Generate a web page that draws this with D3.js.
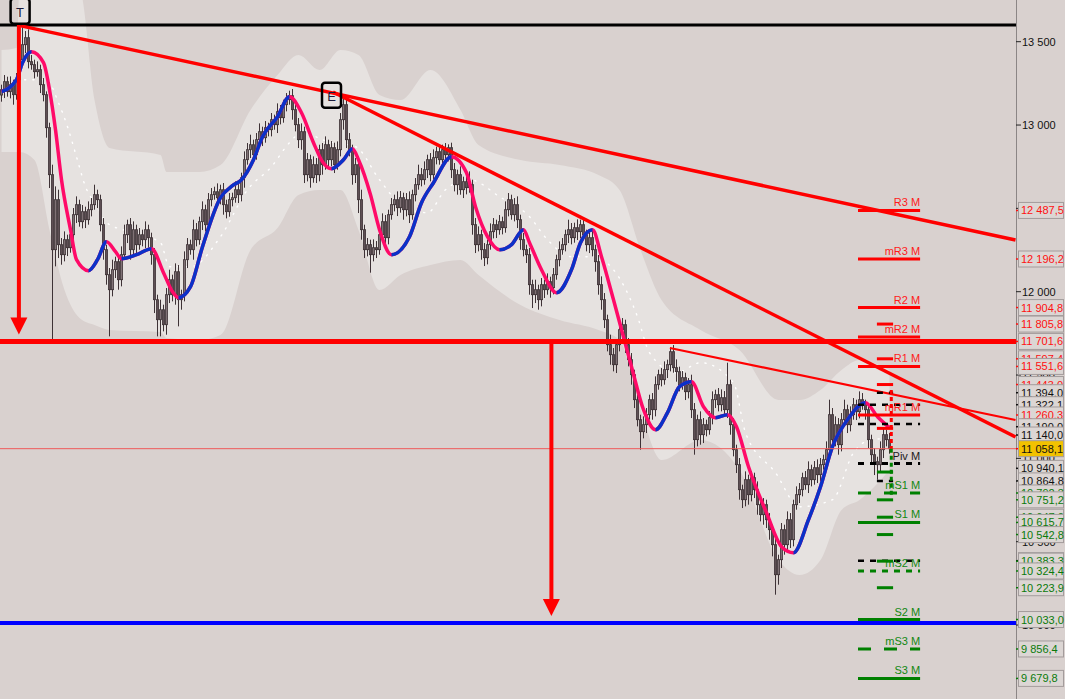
<!DOCTYPE html>
<html><head><meta charset="utf-8">
<script src="https://cdn.jsdelivr.net/npm/d3@7"></script>
<style>
body{margin:0;background:#d9d1cf;overflow:hidden}
svg{display:block}
text{font-family:"Liberation Sans",Arial,sans-serif}
</style>
</head><body>
<svg id="c" width="1065" height="699"></svg>
<script>
// ---------------- DATA ----------------
const firstOpen = 13180;
const closes = [
13212,13260,13200,13242,13182,13272,13392,13482,13524,13380,
13362,13320,13332,13242,13182,12984,12702,12252,12552,12282,
12222,12312,12264,12342,12462,12522,12420,12480,12432,12492,
12522,12582,12552,12402,12252,12102,12012,12132,12180,12072,
12222,12342,12402,12252,12372,12282,12342,12312,12372,12324,
12222,11952,11832,11892,11802,11982,12072,11982,12120,11952,
11982,12192,12282,12252,12372,12312,12420,12492,12402,12552,
12582,12600,12564,12612,12522,12480,12552,12564,12612,12582,
12684,12792,12852,12882,12822,12912,12960,12924,12984,12972,
13032,13002,13080,13044,13122,13152,13176,13092,13002,12912,
12960,12702,12792,12684,12762,12702,12852,12762,12882,12792,
12864,12762,12852,13032,13122,12912,12852,12702,12762,12552,
12372,12252,12282,12222,12264,12252,12342,12420,12324,12462,
12522,12552,12504,12564,12492,12552,12462,12582,12642,12702,
12672,12732,12792,12702,12804,12840,12792,12852,12822,12864,
12732,12642,12702,12612,12660,12624,12642,12402,12282,12342,
12252,12204,12282,12360,12402,12372,12420,12384,12492,12552,
12462,12522,12432,12312,12252,12222,12042,11982,12012,11952,
12042,12012,12060,12024,12102,12192,12252,12282,12342,12372,
12324,12384,12360,12402,12342,12282,12324,12252,12180,12042,
11952,11832,11682,11622,11562,11682,11772,11802,11682,11592,
11502,11352,11232,11160,11202,11262,11352,11292,11442,11502,
11472,11532,11562,11640,11544,11520,11442,11484,11400,11442,
11292,11112,11232,11142,11202,11172,11244,11352,11382,11322,
11364,11292,11442,11202,11052,10962,10812,10752,10872,10782,
10884,10812,10722,10662,10722,10632,10572,10482,10302,10392,
10572,10482,10632,10512,10722,10782,10812,10884,10842,10932,
10872,10944,10902,10962,10992,11052,11262,11112,11202,11082,
11232,11292,11202,11262,11322,11280,11352,11322,11292,11112,
11022,10980,10962,11052,11142,11112,11058.1];
const upperWick = [
30,40,30,50,30,40,60,115,40,50, 40,30,50,30,40,20,30,60,80,60,
40,50,30,60,40,50,30,40,30,50, 40,60,30,30,40,30,40,60,30,40,
50,60,30,40,50,30,40,30,50,30, 30,40,30,60,30,40,60,30,50,40,
30,50,40,30,60,40,30,50,30,40, 40,30,50,30,40,30,40,30,50,40,
30,50,40,60,30,40,50,30,40,30, 40,30,50,40,30,40,30,40,30,40,
50,30,40,30,50,40,30,40,50,30, 40,30,50,40,50,30,40,30,40,30,
60,30,40,30,50,40,30,50,40,30, 40,30,50,40,30,40,50,30,40,60,
40,50,30,40,50,30,40,30,40,20, 30,40,30,50,30,40,80,30,40,50,
30,40,30,50,40,30,40,30,50,40, 30,40,50,30,40,30,40,30,60,30,
40,30,50,30,40,30,50,40,30,60, 40,30,50,30,40,30,40,50,30,40,
50,40,30,60,40,30,50,40,30,40, 40,30,40,30,50,40,30,40,50,30,
40,50,30,24,40,50,30,40,30,40, 60,40,30,50,40,30,40,50,30,40,
50,40,132,30,40,30,40,30,50,30, 40,30,50,30,40,30,40,30,40,30,
40,30,50,40,30,50,40,30,40,50, 30,40,50,40,30,50,90,40,50,40,
40,60,30,50,40,30,50,40,30,40, 30,40,30,50,40,30,40];
const lowerWick = [
40,50,30,40,60,30,40,30,50,40, 30,40,30,50,40,60,80,540,100,80,
60,40,50,30,40,50,30,40,50,30, 40,30,50,40,60,60,280,40,50,60,
40,30,50,60,40,50,30,40,50,60, 60,80,100,100,40,60,50,40,60,160,
60,40,50,30,60,40,30,50,40,30, 40,30,50,40,60,40,30,40,30,50,
40,60,30,50,40,30,40,50,30,40, 40,30,50,40,30,40,30,60,40,50,
60,50,40,60,30,50,40,60,30,50, 40,50,30,40,60,50,40,60,50,80,
60,50,40,108,40,50,30,40,60,40, 30,40,50,30,60,40,50,30,40,30,
40,30,50,40,30,40,30,40,30,40, 50,40,60,30,50,40,30,60,50,40,
60,50,40,30,40,50,30,40,30,40, 30,40,50,60,40,50,60,80,50,60,
40,50,30,60,40,30,40,30,40,50, 40,30,50,40,30,40,50,40,60,60,
60,50,40,60,40,50,40,60,50,40, 60,50,40,108,40,50,30,60,40,30,
40,30,50,40,30,60,40,30,50,40, 50,90,40,60,50,40,30,40,50,40,
40,30,50,60,40,50,60,50,40,60, 40,50,60,40,60,50,60,70,120,60,
50,60,40,50,40,30,50,40,30,50, 40,30,50,40,30,40,60,50,40,60,
40,30,50,40,30,50,40,30,60,50, 60,80,90,40,50,40,30];

// smoothed trend average (blue rising / pink falling), read at candle indices
const maIdx = [0,5,7,10,14,16,18,20,23,25,29,32,35,38,40,45,50,54,57,59,63,67,73,77,80,84,87,92,96,100,104,107,110,114,117,119,123,126,130,136,140,144,150,155,158,162,166,170,174,176,180,185,190,193,197,200,204,210,214,218,222,226,230,234,238,242,245,249,255,260,264,269,273,277,282,288,292,296];
const maVal = [13200,13272,13374,13440,13374,13212,12972,12672,12372,12192,12126,12192,12300,12240,12198,12222,12258,12114,12000,11964,12030,12270,12564,12636,12672,12792,12930,13050,13170,13074,12894,12780,12738,12792,12858,12792,12582,12372,12222,12330,12534,12654,12810,12714,12510,12330,12252,12282,12372,12294,12132,11994,12132,12294,12372,12210,11952,11550,11292,11172,11274,11430,11460,11310,11244,11262,11190,10950,10674,10470,10434,10632,10830,11070,11232,11334,11250,11184];

// middle dotted line
const midIdx = [0,6,15,19,22,25,28,32,35,44,53,56,63,73,82,90,96,100,109,118,126,134,142,148,156,166,176,182,190,197,204,212,216,225,233,244,248,258,266,277,284,290,296];
const midVal = [13152,13272,13272,13134,12990,12810,12630,12510,12414,12354,12294,12150,12150,12330,12612,12750,12894,12954,12900,12870,12672,12510,12474,12612,12672,12570,12450,12312,12210,12210,12132,11850,11634,11514,11574,11454,11154,10914,10710,10752,11034,11112,11120];

// envelope band
const bandIdx = [0,5,6,11,16,21,26,31,36,53,55,66,73,83,92,99,106,113,119,126,133,143,153,159,173,186,199,206,213,220,233,246,259,266,273,280,286,296];
const bandUp  = [13450,13462,13810,13810,13810,13810,13810,13150,12862,12820,12718,12718,12760,13090,13300,13420,13330,13450,13420,13180,13150,13330,13090,12880,12790,12760,12700,12610,12250,11950,11770,11650,11350,11350,11410,11530,11590,11530];
const bandLo  = [12838,12838,12838,12790,12370,12010,11842,11800,11770,11758,11722,11710,11740,12250,12382,12580,12610,12610,12370,12010,12100,12160,12190,12100,11920,11830,11770,11710,11290,10990,11110,10930,10390,10300,10390,10690,10750,10930];

// monthly pivot levels
const pivotNames = ["R3 M","mR3 M","R2 M","mR2 M","R1 M","mR1 M","Piv M","mS1 M","S1 M","mS2 M","S2 M","mS3 M","S3 M"];
const pivotVals  = [12487.5,12196.2,11904.8,11728.2,11551.6,11260.3,10968.9,10792.3,10615.7,10324.4,10033.0,9856.4,9679.8];

// shorter levels
const shortRedVals   = [11805.8,11597.4,11443,11180];
const shortGreenVals = [10918,10751.2,10647,10542.8,10383.3,10223.9];
const blackDashLong  = [11322.1,11206,10386.3];
const blackDashShort = [11394,10864.8];

// horizontal levels
const topLevel = 13600, breakLevel = 11701.6, targetLevel = 10012, lastPrice = 11058.1;

// trend lines [idx1, price1, idx2, price2]
const trendA = [6.5,13595,338,12310];
const trendB = [110.5,13198,338,11128];
const trendC = [222.8,11662,338,11230];

// measured-move arrows [idx, from, to]
const arrow1 = [5.8,13600,11701.6];
const arrow2 = [183.3,11701.6,10012];

// markers [idx, price, letter]
const markT = [6.2,13680,"T"];
const markE = [110,13175,"E"];

// right price tags [price, kind]
const tagVals  = [12487.5,12196.2,11904.8,11805.8,11701.6,11597.4,11551.6,11443,11394,11322.1,11260.3,11190,11140,11058.1,10940.1,10864.8,10792.3,10751.2,10647,10615.7,10542.8,10386.3,10383.3,10324.4,10223.9,10033.0,9856.4,9679.8];
const tagKinds = ["r","r","r","r","r","r","r","r","k","k","r","k","k","y","k","k","g","g","g","g","g","k","g","g","g","g","g","g"];
const axisTicks = [10000,10500,11000,11500,12000,12500,13000,13500];

// current bar range marker
const barMarkIdx = 296.6;
const barRedRange = [11410,11058.1], barGreenRange = [11058.1,10770];

// ---------------- DRAW ----------------
const W = 1065, H = 699, PW = 1016;
const svg = d3.select("#c");
const x = d3.scaleLinear().domain([0,338]).range([1.5,1015.5]);
const y = d3.scaleLinear().domain([12000,13500]).range([291.7,41.7]);

svg.append("rect").attr("width",W).attr("height",H).attr("fill","#d9d1cf");
svg.append("clipPath").attr("id","plot").append("rect").attr("width",PW).attr("height",H);
const g = svg.append("g").attr("clip-path","url(#plot)");

// band
const bandData = bandIdx.map((d,i)=>({i:d,u:bandUp[i],l:bandLo[i]}));
g.append("path").datum(bandData)
  .attr("d", d3.area().x(d=>x(d.i)).y0(d=>y(d.l)).y1(d=>y(d.u)).curve(d3.curveMonotoneX))
  .attr("fill","#e6e2e0");

// dotted middle line
g.append("path").datum(midIdx.map((d,i)=>[d,midVal[i]]))
  .attr("d", d3.line().x(d=>x(d[0])).y(d=>y(d[1])).curve(d3.curveMonotoneX))
  .attr("fill","none").attr("stroke","#ffffff").attr("stroke-width",1.4)
  .attr("stroke-dasharray","1.2,7").attr("stroke-linecap","round");

// candles
const candles = closes.map((c,i)=>{
  const o = i===0 ? firstOpen : closes[i-1];
  return {i, o, c, h: Math.max(o,c)+upperWick[i], l: Math.min(o,c)-lowerWick[i]};
});
const cg = g.append("g");
cg.selectAll("line").data(candles).join("line")
  .attr("x1",d=>x(d.i)).attr("x2",d=>x(d.i))
  .attr("y1",d=>y(d.h)).attr("y2",d=>y(d.l))
  .attr("stroke","#3e3236").attr("stroke-width",1);
cg.selectAll("rect").data(candles).join("rect")
  .attr("x",d=>x(d.i)-1.1).attr("width",2.2)
  .attr("y",d=>y(Math.max(d.o,d.c)))
  .attr("height",d=>Math.max(1,Math.abs(y(d.o)-y(d.c))))
  .attr("fill",d=>d.c>=d.o?"#807276":"#5e4f54")
  .attr("stroke","#3e3236").attr("stroke-width",0.8);

// MA line
const maData = maIdx.map((d,i)=>[d,maVal[i]]);
const maLine = d3.line().x(d=>x(d[0])).y(d=>y(d[1])).curve(d3.curveMonotoneX);
const clip = svg.append("clipPath").attr("id","rise");
for (let k=0;k<maData.length-1;k++){
  if (maData[k+1][1] > maData[k][1]) {
    clip.append("rect").attr("x",x(maData[k][0])).attr("width",x(maData[k+1][0])-x(maData[k][0]))
      .attr("y",0).attr("height",H);
  }
}
g.append("path").datum(maData).attr("d",maLine).attr("fill","none")
  .attr("stroke","#ff0a68").attr("stroke-width",3.5);
g.append("g").attr("clip-path","url(#rise)").append("path").datum(maData).attr("d",maLine)
  .attr("fill","none").attr("stroke","#0a32c8").attr("stroke-width",3.5);

// horizontal levels
function hline(p, col, w){
  g.append("line").attr("x1",0).attr("x2",PW).attr("y1",y(p)).attr("y2",y(p))
    .attr("stroke",col).attr("stroke-width",w);
}
hline(lastPrice,"#ee5a5a",1);
hline(topLevel,"#000000",3);
hline(breakLevel,"#ff0000",5);
hline(targetLevel,"#0000ff",4);

// trend lines
function tl(t, w){
  g.append("line").attr("x1",x(t[0])).attr("y1",y(t[1])).attr("x2",x(t[2])).attr("y2",y(t[3]))
    .attr("stroke","#ff0000").attr("stroke-width",w);
}
tl(trendA,3.5); tl(trendB,3.5); tl(trendC,2.2);

// arrows
function arrow(a){
  const ax = x(a[0]), y1 = y(a[1]), y2 = y(a[2]) - 7;
  g.append("line").attr("x1",ax).attr("x2",ax).attr("y1",y1).attr("y2",y2-14)
    .attr("stroke","#ff0000").attr("stroke-width",4);
  g.append("path").attr("d",`M${ax-8.5},${y2-17}L${ax+8.5},${y2-17}L${ax},${y2}Z`).attr("fill","#ff0000");
}
arrow(arrow1); arrow(arrow2);

// pivot levels
const pStart = 285.5, pEnd = 306.2, sStart = 291.8, sEnd = 297.2;
function shortL(vals,col,dash,a,b,w){
  vals.forEach(p=>{
    const l = g.append("line").attr("x1",x(a)).attr("x2",x(b)).attr("y1",y(p)).attr("y2",y(p))
      .attr("stroke",col).attr("stroke-width",w);
    if (dash) l.attr("stroke-dasharray",dash);
  });
}
shortL(blackDashLong,"#000000","6,6",pStart,pEnd,2.5);
shortL(blackDashShort,"#000000","6,6",sStart,sEnd,2.5);
pivotNames.forEach((n,k)=>{
  const p = pivotVals[k];
  const isR = n.includes("R"), isPiv = n.startsWith("Piv");
  const col = isPiv ? "#000000" : (isR ? "#ff0000" : "#008000");
  let dash = null;
  if (isPiv) dash = "6,6";
  else if (!isR && n.startsWith("m")) dash = n==="mS2 M" ? "6,6" : "13,13";
  const l = g.append("line").attr("x1",x(pStart)).attr("x2",x(pEnd)).attr("y1",y(p)).attr("y2",y(p))
    .attr("stroke",col).attr("stroke-width",3);
  if (dash) l.attr("stroke-dasharray",dash);
  g.append("text").attr("x",x(pEnd)).attr("y",y(p)-4).attr("text-anchor","end")
    .attr("font-size",11).attr("fill",isPiv?"#1a1a1a":(isR?"#ff1a1a":"#118811")).text(n);
});
shortL(shortRedVals,"#ff0000",null,sStart,sEnd,3);
shortL(shortGreenVals,"#008000",null,sStart,sEnd,3);

// current bar marker
g.append("line").attr("x1",x(barMarkIdx)).attr("x2",x(barMarkIdx)).attr("y1",y(barRedRange[0])).attr("y2",y(barRedRange[1]))
  .attr("stroke","#ff0000").attr("stroke-width",3).attr("stroke-dasharray","4,3");
g.append("line").attr("x1",x(barMarkIdx)).attr("x2",x(barMarkIdx)).attr("y1",y(barGreenRange[0])).attr("y2",y(barGreenRange[1]))
  .attr("stroke","#008000").attr("stroke-width",3).attr("stroke-dasharray","4,3");

// markers
function mark(m){
  const mx = x(m[0]), my = y(m[1]);
  g.append("rect").attr("x",mx-9.5).attr("y",my-13).attr("width",19).attr("height",25).attr("rx",3)
    .attr("fill","none").attr("stroke","#000").attr("stroke-width",2.5);
  g.append("text").attr("x",mx).attr("y",my+5).attr("text-anchor","middle").attr("font-size",13)
    .attr("fill","#1a1a3a").text(m[2]);
}
mark(markT);
mark(markE);

// right axis
svg.append("line").attr("x1",PW+0.5).attr("x2",PW+0.5).attr("y1",0).attr("y2",H).attr("stroke","#8c8686");
const fmtTick = v => d3.format(",")(v).replace(/,/g," ");
const ax = svg.append("g");
const tagYs = tagVals.map(v=>y(v));
axisTicks.forEach(v=>{
  const ty = y(v);
  ax.append("line").attr("x1",PW).attr("x2",PW+5).attr("y1",ty).attr("y2",ty).attr("stroke","#222");
  // tick texts that sit fully behind a price tag are not drawn (they are hidden in the original)
  if (tagYs.some(t=>Math.abs(t-ty)<5)) return;
  ax.append("text").attr("x",PW+6).attr("y",ty+4).attr("font-size",11).attr("fill","#111").text(fmtTick(v));
});
const fmtTag = v => d3.format(",.1f")(v).replace(/,/g," ").replace(".",",");
const kindCol = {r:"#ff1010",g:"#0a7a0a",k:"#111111",y:"#111111"};
tagVals.forEach((v,k)=>{
  const kd = tagKinds[k], ty = y(v);
  ax.append("line").attr("x1",PW).attr("x2",PW+5).attr("y1",ty).attr("y2",ty)
    .attr("stroke",kd==="y"?"#ff0000":kindCol[kd]).attr("stroke-width",1.5);
  ax.append("rect").attr("x",PW+2.5).attr("y",ty-8).attr("width",45).attr("height",16)
    .attr("fill",kd==="y"?"#f2c200":"#dcd6d4").attr("stroke","#a39c9c");
  ax.append("text").attr("x",PW+5).attr("y",ty+4).attr("font-size",11).attr("fill",kindCol[kd]).text(fmtTag(v));
});
</script>
</body></html>
